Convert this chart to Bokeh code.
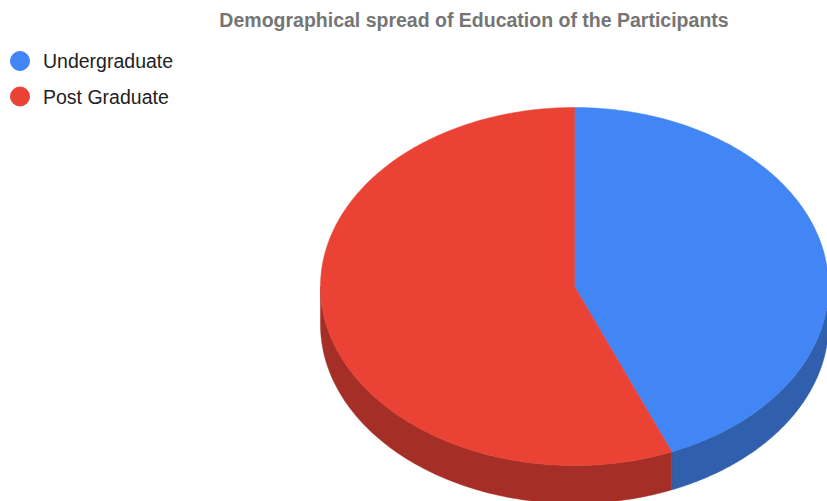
import numpy as np
from bokeh.plotting import figure
from bokeh.models import Range1d
from bokeh.core.properties import value
from bokeh.embed import file_html
from bokeh.resources import INLINE

# ---- data ----
title = "Demographical spread of Education of the Participants"
categories = ["Undergraduate", "Post Graduate"]
values = [7, 9]
top_colors = ["#4285F4", "#EA4335"]
side_colors = ["#2F5FAD", "#A52F26"]

W, H = 827, 501
p = figure(width=W, height=H, output_backend="svg", toolbar_location=None,
           x_range=Range1d(0, W), y_range=Range1d(H, 0), min_border=0)
p.axis.visible = False
p.grid.visible = False
p.outline_line_color = None
p.background_fill_color = "white"
p.border_fill_color = "white"

# pie geometry (pixels)
cx, cy, a, b, depth = 574, 286, 254, 179, 38

def pt(theta_deg):
    t = np.radians(theta_deg)
    return cx + a * np.sin(t), cy - b * np.cos(t)

total = float(sum(values))
angles = np.concatenate([[0], np.cumsum(values) / total * 360.0])

# side walls (front half: 90..270 deg clockwise from top)
sx, sy, sc = [], [], []
for i in range(len(values)):
    t0, t1 = max(angles[i], 90), min(angles[i + 1], 270)
    if t1 <= t0:
        continue
    th = np.linspace(t0, t1, 120)
    xs, ys = pt(th)
    px = list(xs) + list(xs[::-1])
    py = list(ys) + list((ys + depth)[::-1])
    sx.append(px); sy.append(py); sc.append(side_colors[i])
p.patches(sx, sy, fill_color=sc, line_color=sc, line_width=0.5)

# top faces
tx, ty = [], []
for i in range(len(values)):
    th = np.linspace(angles[i], angles[i + 1], 240)
    xs, ys = pt(th)
    tx.append([cx] + list(xs)); ty.append([cy] + list(ys))
p.patches(tx, ty, fill_color=top_colors, line_color=top_colors, line_width=0.5)

# title
p.text(x=[473.5], y=[19], text=[title], text_font=value("Liberation Sans"),
       text_font_style="bold", text_font_size="19.5px", text_color="#757575",
       text_align="center", text_baseline="middle")

# legend
ly = [60.5 + 35.5 * i for i in range(len(categories))]
p.scatter(x=[19.5] * len(categories), y=ly, size=19, marker="circle",
          fill_color=top_colors, line_color=top_colors)
p.text(x=[42.5] * len(categories), y=ly, text=categories,
       text_font=value("Liberation Sans"), text_font_size="19.5px",
       text_color="#222222", text_align="left", text_baseline="middle")

open("out.html", "w").write(file_html(p, INLINE))
